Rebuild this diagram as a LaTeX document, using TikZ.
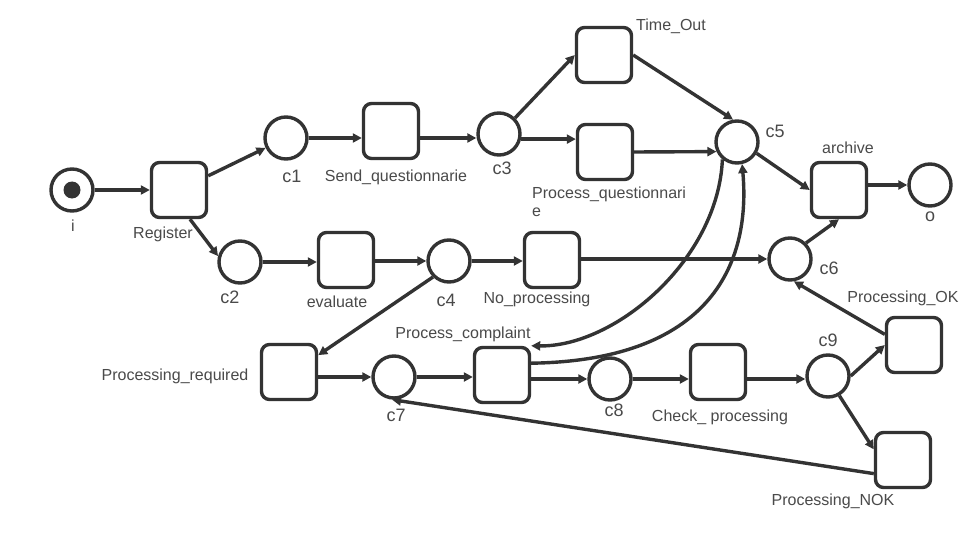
\documentclass[tikz,border=0pt]{standalone}
\usepackage{fontspec}
\setmainfont{Liberation Sans}
\usetikzlibrary{arrows.meta}
\definecolor{ln}{HTML}{333333}
\definecolor{tx}{HTML}{4A4A4A}
\begin{document}
\begin{tikzpicture}[x=1pt,y=-1pt,
  place/.style={circle,draw=ln,line width=3.4pt,minimum size=42pt,inner sep=0pt},
  trans/.style={rectangle,rounded corners=8pt,draw=ln,line width=3.4pt,minimum width=55pt,minimum height=55pt,inner sep=0pt},
  arc/.style={draw=ln,line width=3.4pt,-{Triangle[length=9pt,width=9pt]}},
  tlabel/.style={text=tx,font=\fontsize{16}{18}\selectfont,inner sep=0pt,anchor=base},
  plabel/.style={text=tx,font=\fontsize{18}{20}\selectfont,inner sep=0pt,anchor=base}]
\useasboundingbox[fill=white] (0,0) rectangle (960,540);
% places and transitions
\node[place] (i) at (72,190) {};
\node[circle,fill=ln,minimum size=17pt,inner sep=0pt] (tok) at (72,190) {};
\node[trans] (reg) at (179,190) {};
\node[place] (c1) at (286,138) {};
\node[trans] (send) at (391,131) {};
\node[place] (c3) at (499,134) {};
\node[trans] (to) at (604,55) {};
\node[trans] (pq) at (605,152) {};
\node[place] (c5) at (737,142) {};
\node[trans] (arch) at (839,190) {};
\node[place] (o) at (930,185) {};
\node[place] (c2) at (240,262) {};
\node[trans] (eval) at (346,260) {};
\node[place] (c4) at (449,261) {};
\node[trans] (nop) at (552,260) {};
\node[place] (c6) at (790,259) {};
\node[trans] (pr) at (289,372) {};
\node[place] (c7) at (394,377) {};
\node[trans] (pc) at (502,375) {};
\node[place] (c8) at (610,379) {};
\node[trans] (chk) at (718,372) {};
\node[place] (c9) at (828,376) {};
\node[trans] (pok) at (914,345) {};
\node[trans] (nok) at (903,460) {};
% arcs
\draw[arc] (i) -- (reg);
\draw[arc] (reg) -- (c1);
\draw[arc] ([xshift=11pt]reg.south) -- (c2.165);
\draw[arc] (c1.east) -- (c1.east -| send.west);
\draw[arc] (send.east |- c1.east) -- (c3.west |- c1.east);
\draw[arc] (c3.45) -- (to.west);
\draw[arc] (c3.-13) -- (c3.-13 -| pq.west);
\draw[arc] (to.east) -- (c5.100);
\draw[arc] (pq.east) -- (c5.205);
\draw[arc] (c5.-30) -- (arch.west);
\draw[arc] (o.west -| arch.east) -- (o.west);
\draw[arc] (c6.45) -- (arch.south);
\draw[arc] (c2.east) -- (c2.east -| eval.west);
\draw[arc] (eval.east |- c4.west) -- (c4.west);
\draw[arc] (c4.east) -- (c4.east -| nop.west);
\draw[arc] (nop.east |- c6.west) -- (c6.west);
\draw[arc] (c4.225) -- (pr.30);
\draw[arc] (pr.east |- c7.west) -- (c7.west);
\draw[arc] (c7.east) -- (c7.east -| pc.west);
\draw[arc] (pc.east |- c8.west) -- (c8.west);
\draw[arc] (c8.east) -- (c8.east -| chk.west);
\draw[arc] (chk.east |- c8.east) -- (c9.west |- c8.east);
\draw[arc] (c9.east) -- (pok.west);
\draw[arc] (c9.-60) -- (nok.160);
\draw[arc] (nok.205) -- (c7.-95);
\draw[arc] (pok.160) -- (c6.-80);
\draw[arc] (c5.-130) .. controls (718,260) and (615,347) .. (pc.north east);
\draw[arc] (pc.22) .. controls (740,360) and (748,230) .. (c5.-77);
% labels
\node[tlabel] (lto) at (671,30.5) {Time\_Out};
\node[plabel] (lc5) at (775,137.5) {c5};
\node[tlabel] (larch) at (848,153.5) {archive};
\node[plabel] (lo) at (930,221.5) {o};
\node[plabel] (lc1) at (292,182.5) {c1};
\node[tlabel] (lsend) at (396,181.5) {Send\_questionnarie};
\node[plabel] (lc3) at (502,174.5) {c3};
\node[tlabel,anchor=base west] (lpq1) at (532,198.5) {Process\_questionnari};
\node[tlabel,anchor=base west] (lpq2) at (532,216.5) {e};
\node[tlabel] (li) at (73,231.5) {i};
\node[tlabel] (lreg) at (163,238.5) {Register};
\node[plabel] (lc6) at (829,274.5) {c6};
\node[plabel] (lc2) at (230,303.5) {c2};
\node[tlabel] (leval) at (337,307.5) {evaluate};
\node[plabel] (lc4) at (446,306.5) {c4};
\node[tlabel] (lnop) at (537,303.5) {No\_processing};
\node[tlabel] (lpok) at (903,302.5) {Processing\_OK};
\node[tlabel] (lpc) at (463,338.5) {Process\_complaint};
\node[plabel] (lc9) at (828,346.5) {c9};
\node[tlabel] (lpr) at (175,380.5) {Processing\_required};
\node[plabel] (lc7) at (396,421.5) {c7};
\node[plabel] (lc8) at (614,416.5) {c8};
\node[tlabel] (lchk) at (720,421.5) {Check\_ processing};
\node[tlabel] (lnok) at (833,505.5) {Processing\_NOK};
\end{tikzpicture}
\end{document}
